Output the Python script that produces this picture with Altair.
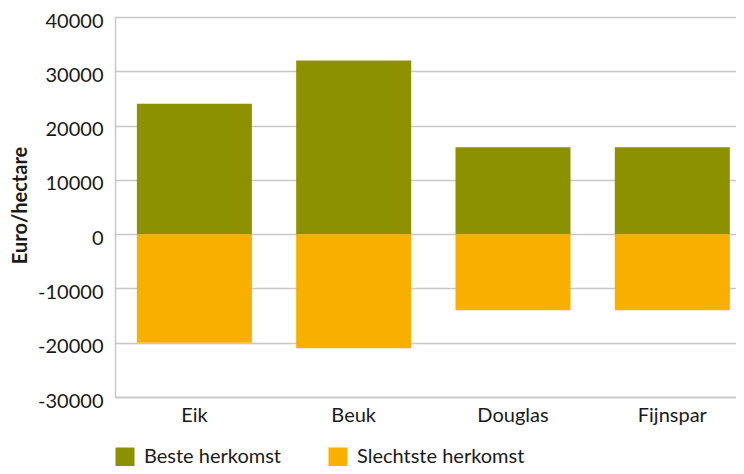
import altair as alt
import pandas as pd

categories = ["Eik", "Beuk", "Douglas", "Fijnspar"]
beste = [24000, 32000, 16000, 16000]
slechtste = [-20000, -21000, -14000, -14000]
series = ["Beste herkomst", "Slechtste herkomst"]
colors = ["#8b9100", "#f9af00"]
y_ticks = [-30000, -20000, -10000, 0, 10000, 20000, 30000, 40000]

rows = []
for c, b, s in zip(categories, beste, slechtste):
    rows.append({"soort": c, "reeks": series[0], "waarde": b})
    rows.append({"soort": c, "reeks": series[1], "waarde": s})
df = pd.DataFrame(rows)

FONT = "Lato"
TXT = "#1a1a1a"

chart = alt.Chart(df).mark_bar().encode(
    x=alt.X("soort:N", sort=categories,
            scale=alt.Scale(paddingInner=0.278, paddingOuter=0.088, align=0.78),
            axis=alt.Axis(title=None, labelAngle=0, ticks=False, grid=False,
                          domain=True, domainColor="#c8c8c8", domainWidth=1.5,
                          labelFontSize=20, labelPadding=8, labelColor=TXT,
                          labelFont=FONT)),
    y=alt.Y("waarde:Q", stack=False,
            scale=alt.Scale(domain=[-30000, 40000], nice=False, zero=False),
            axis=alt.Axis(title="Euro/hectare", values=y_ticks, ticks=False,
                          labelExpr="'' + datum.value",
                          grid=True, gridColor="#c8c8c8", gridWidth=1.5,
                          domain=True, domainColor="#c8c8c8", domainWidth=1.5,
                          labelFontSize=20, labelPadding=12, labelColor=TXT,
                          labelFont=FONT, labelOffset=4, labelBaseline="middle",
                          titleFont=FONT, titleFontSize=20, titleFontWeight="bold",
                          titleColor=TXT, titleX=-95, titleY=188, titleAngle=270,
                          titleAlign="center", titleBaseline="middle")),
    color=alt.Color("reeks:N",
                    scale=alt.Scale(domain=series, range=colors),
                    legend=alt.Legend(title=None, orient="none", legendX=0, legendY=430,
                                      direction="horizontal", symbolType="square",
                                      symbolSize=361, symbolStrokeWidth=0,
                                      symbolOpacity=1,
                                      labelFontSize=20, labelFont=FONT, labelColor=TXT,
                                      labelOffset=9, columnPadding=46,
                                      labelLimit=300)),
).properties(
    width=621,
    height=380,
    autosize=alt.AutoSizeParams(type="none"),
    padding={"left": 107, "top": 9, "right": 0, "bottom": 69},
).configure_view(stroke=None).configure(font=FONT)

chart.save("out.html", embed_options={"renderer": "svg", "actions": False})
